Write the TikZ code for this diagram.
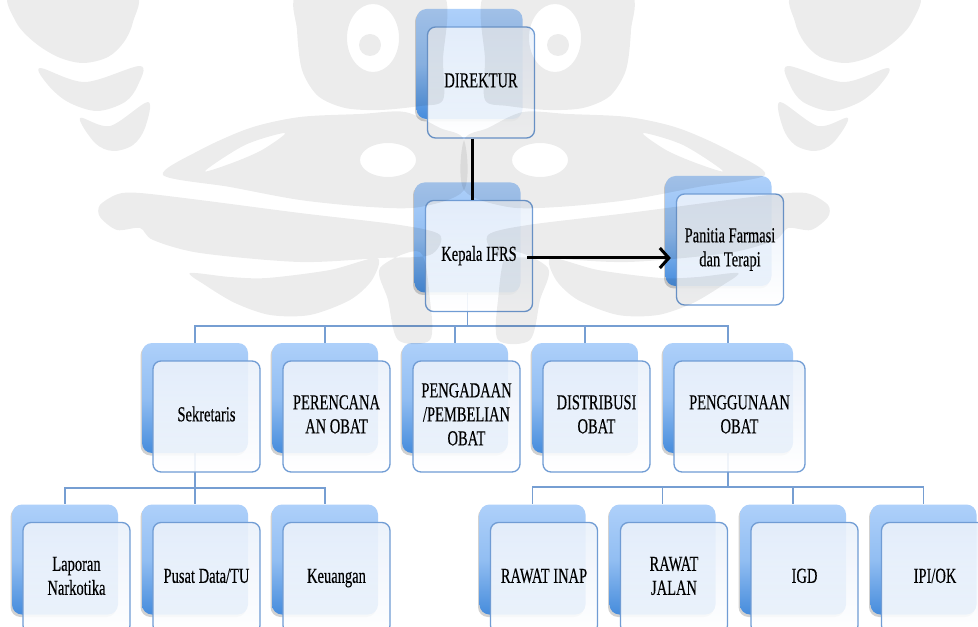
\documentclass[tikz,border=0pt]{standalone}
\usepackage{fontspec}
\setmainfont{Liberation Serif}
\newfontfamily\labelfont{Liberation Serif}[FakeBold=0.4]
\usetikzlibrary{arrows.meta,shadows,calc}

% palette
\definecolor{backTop}{RGB}{174,208,250}
\definecolor{backMid}{RGB}{146,190,242}
\definecolor{backBot}{RGB}{70,140,220}
\definecolor{frameBlue}{RGB}{112,156,212}
\definecolor{faceTop}{RGB}{234,241,251}
\definecolor{linkBlue}{RGB}{118,158,210}

% one drawing unit
\newdimen\px \px=0.75pt

% condensed, centred label lines
\newcommand{\narrow}[1]{\scalebox{0.68}[1]{\begin{tabular}{@{}c@{}}#1\end{tabular}}}

\pgfdeclarelayer{paper}
\pgfdeclarelayer{links}
\pgfdeclarelayer{veil}
\pgfsetlayers{paper,links,main,veil}

\tikzset{
  backbox/.style={rectangle, rounded corners=10\px, minimum height=110\px,
    top color=backTop, bottom color=backBot, middle color=backMid,
    drop shadow={shadow xshift=-1.5\px, shadow yshift=-2.5\px,
      fill=black, opacity=0.18}},
  facebox/.style={rectangle, rounded corners=8\px, minimum height=111\px,
    draw=frameBlue, line width=1.3\px, top color=faceTop, bottom color=white,
    fill opacity=0.9, text opacity=1, inner sep=0pt,
    font=\labelfont\fontsize{16}{18}\selectfont},
  link/.style={draw=linkBlue, line width=1.6\px},
  boss/.style={draw=black, line width=3\px},
  emblem/.style={fill=black, fill opacity=0.075, even odd rule},
}

% #1 width, #2 name, #3 x, #4 y, #5 label
\newcommand{\orgunit}[5][107]{%
  \node[backbox, minimum width={(#1-1)*\px}] (#2B) at ({#3-11.5},{#4-18.5}) {};
  \node[facebox, minimum width={#1*\px}] (#2) at (#3,#4) {\narrow{#5}};
}

% one half of the faint emblem behind the chart
\newcommand{\emblemhalf}{%
  \path[emblem]
    plot[smooth cycle, tension=0.55] coordinates {(10,-6) (70,-6) (135,-6) (133,22) (124,42) (108,57) (83,63) (58,57) (34,42) (16,22)}
    plot[smooth cycle, tension=0.55] coordinates {(40,68) (85,82) (140,66) (138,85) (125,102) (97,111) (68,102) (48,85)}
    plot[smooth cycle, tension=0.55] coordinates {(80,118) (110,126) (148,102) (145,128) (133,145) (113,151) (95,143)}
    plot[smooth cycle, tension=0.5] coordinates {(298,-6) (370,-6) (443,-6) (443,60) (443,100) (420,106) (380,110) (345,108) (318,96) (302,70) (297,30)}
    (373,38) ellipse [x radius=26, y radius=34]
    (370,45) circle [radius=11]
    plot[smooth cycle, tension=0.5] coordinates {(163,175) (200,150) (250,128) (300,117) (360,114) (405,112) (440,128) (464,140) (464,190) (420,207) (370,207) (300,200) (230,187)}
    (388,160) ellipse [x radius=28, y radius=17]
    plot[smooth cycle, tension=0.5] coordinates {(205,171) (245,145) (285,133) (262,150) (232,163)}
    plot[smooth cycle, tension=0.5] coordinates {(100,205) (118,194) (140,193) (200,200) (300,213) (400,225) (440,235) (430,255) (380,258) (300,262) (200,253) (153,240) (140,228) (117,230) (100,217)}
    plot[smooth cycle, tension=0.5] coordinates {(190,273) (230,277) (267,278) (330,270) (377,258) (372,280) (350,300) (310,315) (270,315) (235,303) (205,285)}
    plot[smooth cycle, tension=0.5] coordinates {(380,268) (420,252) (430,300) (430,340) (398,340) (388,300)};
}

\begin{document}
\begin{tikzpicture}[x=0.75pt, y=-0.75pt]
  \useasboundingbox (0,0) rectangle (978,627);
  \clip (0,0) rectangle (978,627);
  \begin{pgfonlayer}{paper}
    \fill[white] (0,0) rectangle (978,627);
  \end{pgfonlayer}

  % top of the chart
  \orgunit{dir}{481}{82.5}{DIREKTUR}
  \orgunit{kep}{479}{256}{Kepala IFRS}
  \orgunit{pan}{730}{249.5}{Panitia Farmasi\\dan Terapi}

  % sections
  \orgunit{sek}{206.5}{416.5}{Sekretaris}
  \orgunit{per}{336.5}{416.5}{PERENCANA\\AN OBAT}
  \orgunit{pgd}{466.5}{416.5}{PENGADAAN\\/PEMBELIAN\\OBAT}
  \orgunit{dis}{596.5}{416.5}{DISTRIBUSI\\OBAT}
  \orgunit[131]{pgn}{739.5}{416.5}{PENGGUNAAN\\OBAT}

  % secretariat units
  \orgunit{lap}{76.5}{578}{Laporan\\Narkotika}
  \orgunit{pus}{206.5}{578}{Pusat Data/TU}
  \orgunit{keu}{336.5}{578}{Keuangan}

  % service units
  \orgunit{ri}{544}{578}{RAWAT INAP}
  \orgunit{rj}{674}{578}{RAWAT\\JALAN}
  \orgunit{igd}{804.5}{578}{IGD}
  \orgunit{ipi}{935}{578}{IPI/OK}

  % bus heights
  \coordinate (busTop) at (0,326);
  \coordinate (busLeft) at (0,488);
  \coordinate (busRight) at (0,487);

  \begin{pgfonlayer}{links}
    \foreach \c in {sek,per,pgd,dis,pgn}
      \draw[link] (kepB.south) -- (kepB.south |- busTop) -| (\c B.north);
    \foreach \c in {lap,pus,keu}
      \draw[link] (sekB.south) -- (sekB.south |- busLeft) -| (\c B.north);
    \foreach \c in {ri,rj,igd,ipi}
      \draw[link] (pgnB.south) -- (pgnB.south |- busRight) -| (\c B.north);
  \end{pgfonlayer}

  % line of command
  \draw[boss] ($(dir.south)+(-9,0)$) -- ($(dir.south |- kep.north)+(-9,0)$);
  \draw[boss, -{Straight Barb[length=6.75pt, width=15pt]}]
    ($(kep.east)+(-6,2)$) -- ($(kep.east -| pan.west)+(-5,2)$);

  % faint emblem, mirrored about x = 464
  \begin{pgfonlayer}{veil}
    \emblemhalf
    \begin{scope}[shift={(928,0)}, xscale=-1]
      \emblemhalf
    \end{scope}
  \end{pgfonlayer}
\end{tikzpicture}
\end{document}
